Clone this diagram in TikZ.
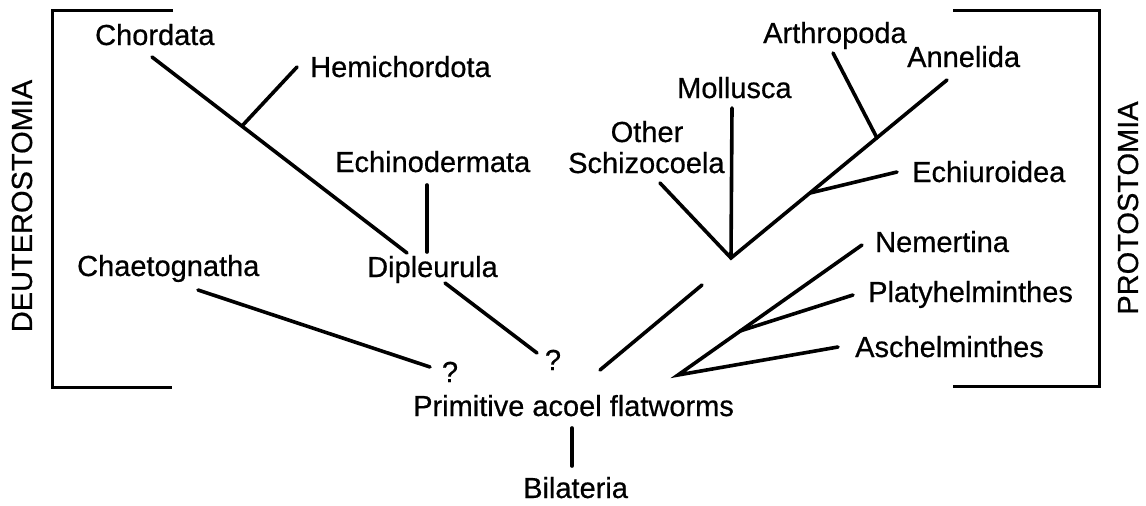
\documentclass[tikz,border=0pt]{standalone}
\usepackage{fontspec}
\setmainfont[FakeBold=0.6]{Liberation Sans}
\begin{document}
\begin{tikzpicture}[x=1pt,y=-1pt,
  lbl/.style={anchor=base west,inner sep=0pt,font=\fontsize{29}{34}\selectfont},
  vlbl/.style={rotate=90,inner sep=0pt,font=\fontsize{29}{34}\selectfont},
  br/.style={line width=3pt,line join=miter},
  ln/.style={line width=3.6pt,line cap=round}]
\useasboundingbox[fill=white] (0,0) rectangle (1146,506);
% brackets
\coordinate (lb1) at (173,10); \coordinate (lb2) at (52,10);
\coordinate (lb3) at (52,387); \coordinate (lb4) at (172,387);
\draw[br] (lb1) -- (lb2) -- (lb3) -- (lb4);
\coordinate (rb1) at (953,10); \coordinate (rb2) at (1099,10);
\coordinate (rb3) at (1099,386); \coordinate (rb4) at (953,386);
\draw[br] (rb1) -- (rb2) -- (rb3) -- (rb4);
\node[vlbl] (deut) at (22,206) {DEUTEROSTOMIA};
\node[vlbl] (prot) at (1128,208) {PROTOSTOMIA};
% labels
\node[lbl] (chord) at (95,45) {Chordata};
\node[lbl] (hemi) at (310,77) {Hemichordota};
\node[lbl] (echino) at (335,172) {Echinodermata};
\node[lbl] (dipl) at (367,277) {Dipleurula};
\node[lbl] (chaet) at (77,276) {Chaetognatha};
\node[anchor=base,inner sep=0pt,font=\fontsize{29}{34}\selectfont] (other) at (647,142) {Other};
\node[lbl] (schizo) at (568,173) {Schizocoela};
\node[lbl] (moll) at (677,98) {Mollusca};
\node[lbl] (arth) at (763,43) {Arthropoda};
\node[lbl] (annel) at (907,67) {Annelida};
\node[lbl] (echiu) at (912,182) {Echiuroidea};
\node[lbl] (nem) at (875,252) {Nemertina};
\node[lbl] (platy) at (868,302) {Platyhelminthes};
\node[lbl] (asch) at (855,357) {Aschelminthes};
\node[anchor=base,inner sep=0pt,font=\fontsize{29}{34}\selectfont] (q1) at (450,382) {?};
\node[anchor=base,inner sep=0pt,font=\fontsize{29}{34}\selectfont] (q2) at (553,370) {?};
\node[lbl] (prim) at (413,416) {Primitive acoel flatworms};
\node[lbl] (bilat) at (523,498) {Bilateria};
% deuterostome lines
\coordinate (cA) at (152,57); \coordinate (cB) at (407,253);
\draw[ln] (cA) -- (cB);
\coordinate (hA) at (242,126); \coordinate (hB) at (297,67);
\draw[ln] (hA) -- (hB);
\coordinate (eA) at (427,185); \coordinate (eB) at (427,252);
\draw[ln] (eA) -- (eB);
\coordinate (dA) at (445,283); \coordinate (dB) at (537,353);
\draw[ln] (dA) -- (dB);
\coordinate (kA) at (198,290); \coordinate (kB) at (430,367);
\draw[ln] (kA) -- (kB);
\coordinate (pA) at (572,428); \coordinate (pB) at (572,466);
\draw[ln] (pA) -- (pB);
% protostome lines
\coordinate (uA) at (600,370); \coordinate (uB) at (702,285);
\draw[ln] (uA) -- (uB);
\coordinate (up) at (731,258);
\coordinate (osE) at (660,183); \coordinate (moE) at (732,108);
\coordinate (anE) at (947,80);
\draw[ln] (osE) -- (up) -- (anE);
\draw[ln] (up) -- (moE);
\coordinate (arF) at (877,138); \coordinate (arE) at (833,53);
\draw[ln] (arF) -- (arE);
\coordinate (ecF) at (810,193); \coordinate (ecE) at (897,172);
\draw[ln] (ecF) -- (ecE);
\coordinate (lo) at (678,375);
\coordinate (neE) at (862,245); \coordinate (plF) at (740,331);
\coordinate (plE) at (853,295); \coordinate (asE) at (838,347);
\draw[ln] (neE) -- (lo) -- (asE);
\draw[ln] (plF) -- (plE);
\end{tikzpicture}
\end{document}
